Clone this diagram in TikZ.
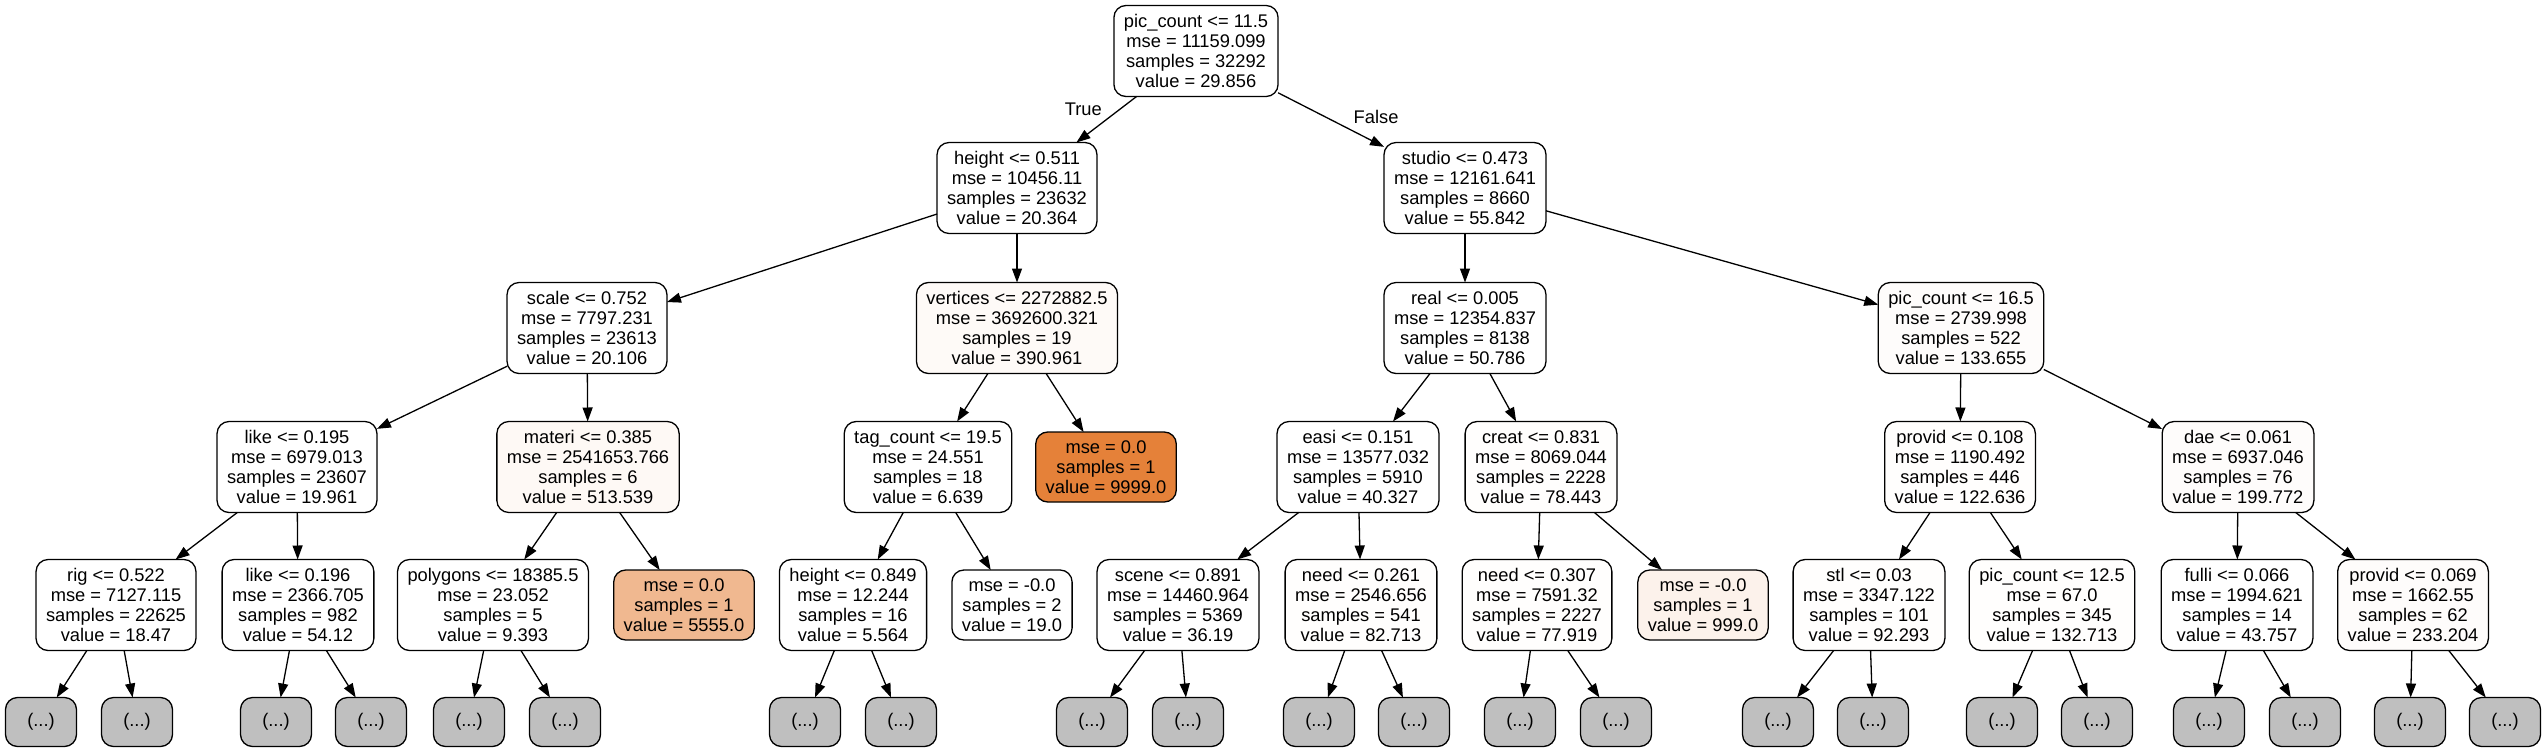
\documentclass[tikz,border=0pt]{standalone}
\usepackage{fontspec}
\setmainfont{Liberation Sans}
\usepackage{xcolor}
\usepackage{tikz}
\usetikzlibrary{arrows.meta}

\definecolor{leaforange}{RGB}{229,129,57}

\begin{document}
\begin{tikzpicture}[
    x=1pt,y=1pt,
    outer sep=0pt, % arrows end right on the box border
    splitbox/.style={draw,line width=1.3pt,rectangle,rounded corners=12pt,align=center,fill=white,
      font=\fontsize{18.3}{20}\selectfont,inner xsep=10pt,inner ysep=0pt,minimum height=91pt},
    leafbox/.style={splitbox,minimum height=70pt},
    morebox/.style={splitbox,fill=gray!50,minimum width=71pt,minimum height=49pt},
    treearrow/.style={-{Triangle[length=14pt,width=10pt]},line width=1.3pt},
    branchlabel/.style={font=\fontsize{18.3}{20}\selectfont,inner sep=0pt},
    ]
    \useasboundingbox (0,0) rectangle (2547,-752);

    % level 0 and 1
    \node (root)    at (1196,-51)  [splitbox] {pic\_count <= 11.5\\mse = 11159.099\\samples = 32292\\value = 29.856};
    \node (height1) at (1017,-188) [splitbox] {height <= 0.511\\mse = 10456.11\\samples = 23632\\value = 20.364};
    \node (studio)  at (1465,-188) [splitbox] {studio <= 0.473\\mse = 12161.641\\samples = 8660\\value = 55.842};

    \draw [treearrow] (root) -- (height1) node [branchlabel,pos=0.28,left=18pt] {True};
    \draw [treearrow] (root) -- (studio)  node [branchlabel,pos=0.44,right=29pt] {False};

    % level 2
    \node (scale)    at (587,-328)  [splitbox] {scale <= 0.752\\mse = 7797.231\\samples = 23613\\value = 20.106};
    \node (vertices) at (1017,-328) [splitbox,fill=leaforange!4] {vertices <= 2272882.5\\mse = 3692600.321\\samples = 19\\value = 390.961};
    \node (real)     at (1465,-328) [splitbox] {real <= 0.005\\mse = 12354.837\\samples = 8138\\value = 50.786};
    \node (piccnt2)  at (1961,-328) [splitbox,fill=leaforange!2] {pic\_count <= 16.5\\mse = 2739.998\\samples = 522\\value = 133.655};

    \draw [treearrow] (height1) -- (scale);
    \draw [treearrow] (height1) -- (vertices);
    \draw [treearrow] (studio)  -- (real);
    \draw [treearrow] (studio)  -- (piccnt2);

    % level 3
    \node (like1)    at (297,-467)  [splitbox] {like <= 0.195\\mse = 6979.013\\samples = 23607\\value = 19.961};
    \node (materi)   at (588,-467)  [splitbox,fill=leaforange!5] {materi <= 0.385\\mse = 2541653.766\\samples = 6\\value = 513.539};
    \node (tagcnt)   at (928,-467)  [splitbox] {tag\_count <= 19.5\\mse = 24.551\\samples = 18\\value = 6.639};
    \node (leaf9999) at (1106,-467) [leafbox,fill=leaforange] {mse = 0.0\\samples = 1\\value = 9999.0};
    \node (easi)     at (1358,-467) [splitbox] {easi <= 0.151\\mse = 13577.032\\samples = 5910\\value = 40.327};
    \node (creat)    at (1541,-467) [splitbox,fill=leaforange!1] {creat <= 0.831\\mse = 8069.044\\samples = 2228\\value = 78.443};
    \node (provid1)  at (1960,-467) [splitbox,fill=leaforange!1] {provid <= 0.108\\mse = 1190.492\\samples = 446\\value = 122.636};
    \node (dae)      at (2238,-467) [splitbox,fill=leaforange!2] {dae <= 0.061\\mse = 6937.046\\samples = 76\\value = 199.772};

    \draw [treearrow] (scale)    -- (like1);
    \draw [treearrow] (scale)    -- (materi);
    \draw [treearrow] (vertices) -- (tagcnt);
    \draw [treearrow] (vertices) -- (leaf9999);
    \draw [treearrow] (real)     -- (easi);
    \draw [treearrow] (real)     -- (creat);
    \draw [treearrow] (piccnt2)  -- (provid1);
    \draw [treearrow] (piccnt2)  -- (dae);

    % level 4
    \node (rig)      at (116,-605)  [splitbox] {rig <= 0.522\\mse = 7127.115\\samples = 22625\\value = 18.47};
    \node (like2)    at (298,-605)  [splitbox] {like <= 0.196\\mse = 2366.705\\samples = 982\\value = 54.12};
    \node (polygons) at (493,-605)  [splitbox] {polygons <= 18385.5\\mse = 23.052\\samples = 5\\value = 9.393};
    \node (leaf5555) at (684,-605)  [leafbox,fill=leaforange!56] {mse = 0.0\\samples = 1\\value = 5555.0};
    \node (height2)  at (853,-605)  [splitbox] {height <= 0.849\\mse = 12.244\\samples = 16\\value = 5.564};
    \node (leaf19)   at (1012,-605) [leafbox] {mse = -0.0\\samples = 2\\value = 19.0};
    \node (scene)    at (1178,-605) [splitbox] {scene <= 0.891\\mse = 14460.964\\samples = 5369\\value = 36.19};
    \node (need1)    at (1361,-605) [splitbox,fill=leaforange!1] {need <= 0.261\\mse = 2546.656\\samples = 541\\value = 82.713};
    \node (need2)    at (1537,-605) [splitbox,fill=leaforange!1] {need <= 0.307\\mse = 7591.32\\samples = 2227\\value = 77.919};
    \node (leaf999)  at (1703,-605) [leafbox,fill=leaforange!10] {mse = -0.0\\samples = 1\\value = 999.0};
    \node (stl)      at (1869,-605) [splitbox,fill=leaforange!1] {stl <= 0.03\\mse = 3347.122\\samples = 101\\value = 92.293};
    \node (piccnt3)  at (2052,-605) [splitbox,fill=leaforange!1] {pic\_count <= 12.5\\mse = 67.0\\samples = 345\\value = 132.713};
    \node (fulli)    at (2237,-605) [splitbox] {fulli <= 0.066\\mse = 1994.621\\samples = 14\\value = 43.757};
    \node (provid2)  at (2413,-605) [splitbox,fill=leaforange!2] {provid <= 0.069\\mse = 1662.55\\samples = 62\\value = 233.204};

    \draw [treearrow] (like1)   -- (rig);
    \draw [treearrow] (like1)   -- (like2);
    \draw [treearrow] (materi)  -- (polygons);
    \draw [treearrow] (materi)  -- (leaf5555);
    \draw [treearrow] (tagcnt)  -- (height2);
    \draw [treearrow] (tagcnt)  -- (leaf19);
    \draw [treearrow] (easi)    -- (scene);
    \draw [treearrow] (easi)    -- (need1);
    \draw [treearrow] (creat)   -- (need2);
    \draw [treearrow] (creat)   -- (leaf999);
    \draw [treearrow] (provid1) -- (stl);
    \draw [treearrow] (provid1) -- (piccnt3);
    \draw [treearrow] (dae)     -- (fulli);
    \draw [treearrow] (dae)     -- (provid2);

    % truncated subtrees
    \node (more1)  at (41,-722)   [morebox] {(...)};
    \node (more2)  at (137,-722)  [morebox] {(...)};
    \node (more3)  at (276,-722)  [morebox] {(...)};
    \node (more4)  at (371,-722)  [morebox] {(...)};
    \node (more5)  at (469,-722)  [morebox] {(...)};
    \node (more6)  at (565,-722)  [morebox] {(...)};
    \node (more7)  at (805,-722)  [morebox] {(...)};
    \node (more8)  at (901,-722)  [morebox] {(...)};
    \node (more9)  at (1092,-722) [morebox] {(...)};
    \node (more10) at (1188,-722) [morebox] {(...)};
    \node (more11) at (1319,-722) [morebox] {(...)};
    \node (more12) at (1414,-722) [morebox] {(...)};
    \node (more13) at (1520,-722) [morebox] {(...)};
    \node (more14) at (1616,-722) [morebox] {(...)};
    \node (more15) at (1778,-722) [morebox] {(...)};
    \node (more16) at (1873,-722) [morebox] {(...)};
    \node (more17) at (2002,-722) [morebox] {(...)};
    \node (more18) at (2097,-722) [morebox] {(...)};
    \node (more19) at (2209,-722) [morebox] {(...)};
    \node (more20) at (2305,-722) [morebox] {(...)};
    \node (more21) at (2410,-722) [morebox] {(...)};
    \node (more22) at (2505,-722) [morebox] {(...)};

    \draw [treearrow] (rig)      -- (more1);
    \draw [treearrow] (rig)      -- (more2);
    \draw [treearrow] (like2)    -- (more3);
    \draw [treearrow] (like2)    -- (more4);
    \draw [treearrow] (polygons) -- (more5);
    \draw [treearrow] (polygons) -- (more6);
    \draw [treearrow] (height2)  -- (more7);
    \draw [treearrow] (height2)  -- (more8);
    \draw [treearrow] (scene)    -- (more9);
    \draw [treearrow] (scene)    -- (more10);
    \draw [treearrow] (need1)    -- (more11);
    \draw [treearrow] (need1)    -- (more12);
    \draw [treearrow] (need2)    -- (more13);
    \draw [treearrow] (need2)    -- (more14);
    \draw [treearrow] (stl)      -- (more15);
    \draw [treearrow] (stl)      -- (more16);
    \draw [treearrow] (piccnt3)  -- (more17);
    \draw [treearrow] (piccnt3)  -- (more18);
    \draw [treearrow] (fulli)    -- (more19);
    \draw [treearrow] (fulli)    -- (more20);
    \draw [treearrow] (provid2)  -- (more21);
    \draw [treearrow] (provid2)  -- (more22);
\end{tikzpicture}
\end{document}
